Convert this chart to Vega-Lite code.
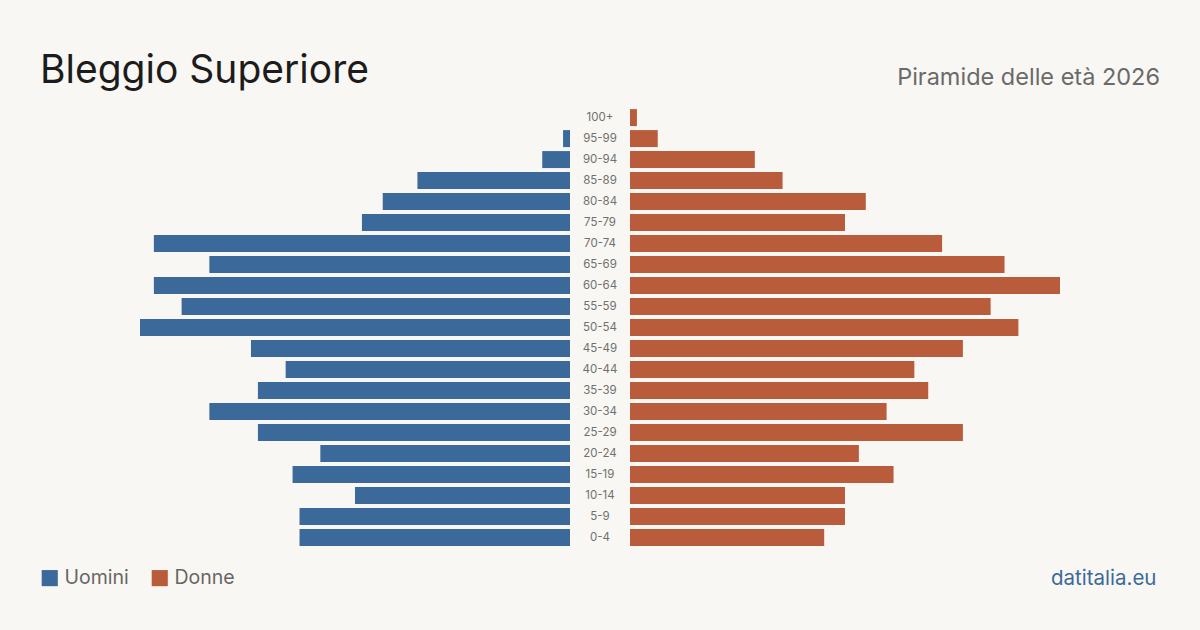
{
  "$schema": "https://vega.github.io/schema/vega-lite/v6.json",
  "background": "#f9f7f3",
  "padding": {"left": 40, "top": 51, "right": 40, "bottom": 43},
  "title": {"text": "Bleggio Superiore", "anchor": "start", "frame": "group", "fontSize": 39, "font": "Inter", "fontWeight": 400, "color": "#1c1c1c", "offset": 10, "dy": 35},
  "config": {"view": {"stroke": null}, "font": "Inter"},
  "datasets": {
    "pop": [
      {"eta": "100+", "sesso": "Uomini", "n": 0}, {"eta": "100+", "sesso": "Donne", "n": 1},
      {"eta": "95-99", "sesso": "Uomini", "n": 1}, {"eta": "95-99", "sesso": "Donne", "n": 4},
      {"eta": "90-94", "sesso": "Uomini", "n": 4}, {"eta": "90-94", "sesso": "Donne", "n": 18},
      {"eta": "85-89", "sesso": "Uomini", "n": 22}, {"eta": "85-89", "sesso": "Donne", "n": 22},
      {"eta": "80-84", "sesso": "Uomini", "n": 27}, {"eta": "80-84", "sesso": "Donne", "n": 34},
      {"eta": "75-79", "sesso": "Uomini", "n": 30}, {"eta": "75-79", "sesso": "Donne", "n": 31},
      {"eta": "70-74", "sesso": "Uomini", "n": 60}, {"eta": "70-74", "sesso": "Donne", "n": 45},
      {"eta": "65-69", "sesso": "Uomini", "n": 52}, {"eta": "65-69", "sesso": "Donne", "n": 54},
      {"eta": "60-64", "sesso": "Uomini", "n": 60}, {"eta": "60-64", "sesso": "Donne", "n": 62},
      {"eta": "55-59", "sesso": "Uomini", "n": 56}, {"eta": "55-59", "sesso": "Donne", "n": 52},
      {"eta": "50-54", "sesso": "Uomini", "n": 62}, {"eta": "50-54", "sesso": "Donne", "n": 56},
      {"eta": "45-49", "sesso": "Uomini", "n": 46}, {"eta": "45-49", "sesso": "Donne", "n": 48},
      {"eta": "40-44", "sesso": "Uomini", "n": 41}, {"eta": "40-44", "sesso": "Donne", "n": 41},
      {"eta": "35-39", "sesso": "Uomini", "n": 45}, {"eta": "35-39", "sesso": "Donne", "n": 43},
      {"eta": "30-34", "sesso": "Uomini", "n": 52}, {"eta": "30-34", "sesso": "Donne", "n": 37},
      {"eta": "25-29", "sesso": "Uomini", "n": 45}, {"eta": "25-29", "sesso": "Donne", "n": 48},
      {"eta": "20-24", "sesso": "Uomini", "n": 36}, {"eta": "20-24", "sesso": "Donne", "n": 33},
      {"eta": "15-19", "sesso": "Uomini", "n": 40}, {"eta": "15-19", "sesso": "Donne", "n": 38},
      {"eta": "10-14", "sesso": "Uomini", "n": 31}, {"eta": "10-14", "sesso": "Donne", "n": 31},
      {"eta": "5-9", "sesso": "Uomini", "n": 39}, {"eta": "5-9", "sesso": "Donne", "n": 31},
      {"eta": "0-4", "sesso": "Uomini", "n": 39}, {"eta": "0-4", "sesso": "Donne", "n": 28}
    ]
  },
  "data": {"name": "pop"},
  "spacing": 0,
  "bounds": "flush",
  "resolve": {"legend": {"color": "independent"}},
  "hconcat": [
    {
      "width": 530,
      "height": 441,
      "transform": [{"filter": "datum.sesso === 'Uomini'"}],
      "mark": {"type": "bar"},
      "encoding": {
        "y": {"field": "eta", "type": "ordinal", "sort": ["100+","95-99","90-94","85-89","80-84","75-79","70-74","65-69","60-64","55-59","50-54","45-49","40-44","35-39","30-34","25-29","20-24","15-19","10-14","5-9","0-4"], "axis": null, "scale": {"paddingInner": 0.19, "paddingOuter": 0.1}},
        "x": {"field": "n", "type": "quantitative", "scale": {"domain": [0, 76.42], "nice": false, "reverse": true}, "axis": null},
        "color": {"field": "sesso", "type": "nominal", "scale": {"domain": ["Uomini", "Donne"], "range": ["#3b6a9a", "#b95c3c"]},
          "legend": {"orient": "bottom", "direction": "horizontal", "title": null, "symbolType": "square", "symbolSize": 260, "symbolStrokeWidth": 0, "symbolOpacity": 1, "labelFontSize": 19.5, "labelColor": "#666666", "labelFont": "Inter", "columnPadding": 21, "symbolOffset": 0, "offset": 20, "padding": 0, "labelOffset": 5}
        }
      }
    },
    {
      "width": 60,
      "height": 441,
      "transform": [{"filter": "datum.sesso === 'Uomini'"}],
      "mark": {"type": "text", "fontSize": 11.5, "color": "#707070", "font": "Inter"},
      "encoding": {
        "y": {"field": "eta", "type": "ordinal", "sort": ["100+","95-99","90-94","85-89","80-84","75-79","70-74","65-69","60-64","55-59","50-54","45-49","40-44","35-39","30-34","25-29","20-24","15-19","10-14","5-9","0-4"], "axis": null, "scale": {"paddingInner": 0.19, "paddingOuter": 0.1}},
        "text": {"field": "eta"}
      }
    },
    {
      "width": 530,
      "height": 441,
      "title": {"text": "Piramide delle età 2026", "anchor": "end", "fontSize": 23.5, "font": "Inter", "fontWeight": 400, "color": "#6a6a6a", "offset": 18},
      "transform": [{"filter": "datum.sesso === 'Donne'"}],
      "mark": {"type": "bar"},
      "encoding": {
        "y": {"field": "eta", "type": "ordinal", "sort": ["100+","95-99","90-94","85-89","80-84","75-79","70-74","65-69","60-64","55-59","50-54","45-49","40-44","35-39","30-34","25-29","20-24","15-19","10-14","5-9","0-4"], "axis": null, "scale": {"paddingInner": 0.19, "paddingOuter": 0.1}},
        "x": {"field": "n", "type": "quantitative", "scale": {"domain": [0, 76.42], "nice": false}, "title": "datitalia.eu",
          "axis": {"domain": false, "ticks": false, "labels": false, "grid": false, "titleAnchor": "end", "titleFontSize": 20.5, "titleFont": "Inter", "titleFontWeight": 400, "titleColor": "#3b6a9a", "titlePadding": 20, "titleX": 526}},
        "color": {"field": "sesso", "type": "nominal", "scale": {"domain": ["Uomini", "Donne"], "range": ["#3b6a9a", "#b95c3c"]}, "legend": null}
      }
    }
  ]
}
